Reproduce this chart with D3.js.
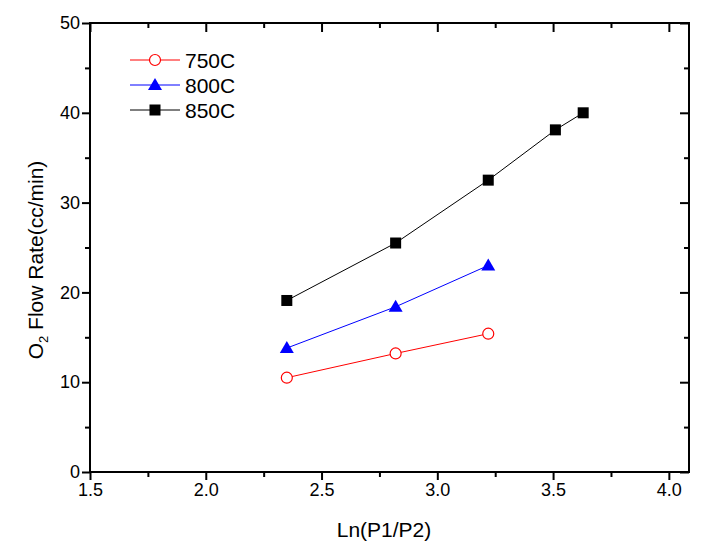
<!DOCTYPE html>
<html><head><meta charset="utf-8">
<script src="https://cdn.jsdelivr.net/npm/d3@7"></script>
<style>body{margin:0;background:#fff;} text{font-family:"Liberation Sans",Arial,sans-serif;}</style>
</head><body>
<svg id="c" width="712" height="551"></svg>
<script>
const xTicks = [1.5, 2.0, 2.5, 3.0, 3.5, 4.0];
const xMinorTicks = [1.75, 2.25, 2.75, 3.25, 3.75];
const yTicks = [0, 10, 20, 30, 40, 50];
const yMinorTicks = [5, 15, 25, 35, 45];
const x750 = [2.35, 2.82, 3.22];
const y750 = [10.5, 13.2, 15.4];
const x800 = [2.35, 2.82, 3.22];
const y800 = [13.8, 18.4, 23.0];
const x850 = [2.35, 2.82, 3.22, 3.51, 3.63];
const y850 = [19.1, 25.5, 32.5, 38.1, 40.0];
const seriesNames = ["750C", "800C", "850C"];

const svg = d3.select("#c");
const L = 90, R = 689, T = 23, B = 472;
const x = d3.scaleLinear().domain([1.5, 4.087]).range([L, R]);
const y = d3.scaleLinear().domain([0, 50]).range([B, T]);

const series = [
  {name: seriesNames[0], xs: x750, ys: y750, color: "#ff0000", sym: "circle"},
  {name: seriesNames[1], xs: x800, ys: y800, color: "#0000ff", sym: "triangle"},
  {name: seriesNames[2], xs: x850, ys: y850, color: "#000000", sym: "square"}
];

// frame
svg.append("rect").attr("x", L).attr("y", T).attr("width", R - L).attr("height", B - T)
  .attr("fill", "none").attr("stroke", "#000").attr("stroke-width", 2);

const groups = [];
function addAxis(axis, tx, ty) {
  const g = svg.append("g").attr("transform", `translate(${tx},${ty})`).call(axis);
  groups.push(g);
  return g;
}
// bottom / left (outward)
addAxis(d3.axisBottom(x).tickValues(xTicks).tickFormat(d3.format(".1f")).tickSize(8).tickPadding(3), 0, B);
addAxis(d3.axisBottom(x).tickValues(xMinorTicks).tickFormat("").tickSize(5), 0, B);
addAxis(d3.axisLeft(y).tickValues(yTicks).tickFormat(d3.format("d")).tickSize(8).tickPadding(2), L, 0);
addAxis(d3.axisLeft(y).tickValues(yMinorTicks).tickFormat("").tickSize(5), L, 0);
// top / right (inward)
addAxis(d3.axisTop(x).tickValues(xTicks).tickFormat("").tickSize(-9), 0, T);
addAxis(d3.axisTop(x).tickValues(xMinorTicks).tickFormat("").tickSize(-5), 0, T);
addAxis(d3.axisRight(y).tickValues(yTicks).tickFormat("").tickSize(-9), R, 0);
addAxis(d3.axisRight(y).tickValues(yMinorTicks).tickFormat("").tickSize(-5), R, 0);
groups.forEach(g => {
  g.select(".domain").remove();
  g.selectAll("line").attr("stroke", "#000").attr("stroke-width", 2);
  g.selectAll("text").attr("font-size", 18).attr("fill", "#000").attr("font-family", "Liberation Sans, Arial, sans-serif");
});

// axis titles
svg.append("text").attr("x", 384).attr("y", 537).attr("text-anchor", "middle")
  .attr("font-size", 21).text("Ln(P1/P2)");
const yl = svg.append("text").attr("transform", `translate(43,260) rotate(-90)`)
  .attr("text-anchor", "middle").attr("font-size", 21);
yl.append("tspan").text("O");
yl.append("tspan").attr("font-size", 13).attr("dy", 5).text("2");
yl.append("tspan").attr("dy", -5).text(" Flow Rate(cc/min)");

function marker(g, sym, color, cx, cy) {
  if (sym === "circle") {
    g.append("circle").attr("cx", cx).attr("cy", cy).attr("r", 5.5)
      .attr("fill", "#fff").attr("stroke", color).attr("stroke-width", 1.2);
  } else if (sym === "triangle") {
    g.append("path").attr("d", `M${cx},${cy - 7}L${cx + 7},${cy + 5}L${cx - 7},${cy + 5}Z`).attr("fill", color);
  } else {
    g.append("rect").attr("x", cx - 5.5).attr("y", cy - 5.5).attr("width", 11).attr("height", 11).attr("fill", color);
  }
}

const line = d3.line().x(d => x(d[0])).y(d => y(d[1]));
series.forEach(s => {
  const pts = s.xs.map((v, i) => [v, s.ys[i]]);
  svg.append("path").datum(pts).attr("d", line).attr("fill", "none")
    .attr("stroke", s.color).attr("stroke-width", 1);
  const g = svg.append("g");
  pts.forEach(p => marker(g, s.sym, s.color, x(p[0]), y(p[1])));
});

// legend
series.forEach((s, i) => {
  const ly = 60 + i * 25;
  const g = svg.append("g");
  g.append("line").attr("x1", 130).attr("x2", 180).attr("y1", ly).attr("y2", ly)
    .attr("stroke", s.color).attr("stroke-width", 1);
  marker(g, s.sym, s.color, 155, ly);
  g.append("text").attr("x", 185).attr("y", ly + 8).attr("font-size", 21).text(s.name);
});
</script>
</body></html>
